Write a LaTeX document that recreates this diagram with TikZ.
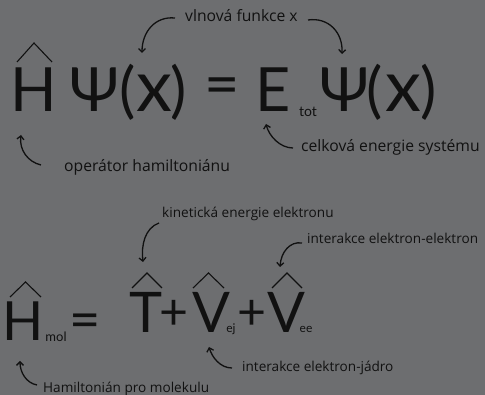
\documentclass[tikz,border=0pt]{standalone}
\usepackage{fontspec}
\setmainfont{Lato}
\newfontfamily\lblfont{Open Sans}
\usetikzlibrary{arrows.meta}
\definecolor{bg}{HTML}{6D6E70}
\definecolor{ink}{HTML}{111111}
\tikzset{
  glyph/.style={inner sep=0pt, anchor=base, text=ink},
  lbl/.style={inner sep=0pt, anchor=base west, text=ink, font=\lblfont\fontsize{13.6}{14}\selectfont},
  lblbig/.style={lbl, font=\lblfont\fontsize{15.7}{16}\selectfont},
  hatline/.style={draw=ink, line width=1.1pt},
  callout/.style={draw=ink, line width=1.3pt, -{Straight Barb[length=3.5pt,width=7pt]}},
}
\begin{document}
\begin{tikzpicture}[x=1pt,y=-1pt]
\fill[bg] (0,0) rectangle (485,395);
\useasboundingbox (0,0) rectangle (485,395);
% ---------- top equation ----------
\def\bigA{\fontsize{61}{61}\selectfont}
\node[glyph, font=\bigA] (H1) at (34,112) {H};
\node[glyph, font=\bigA] (P1) at (94.5,112) {Ψ};
\node[glyph, font=\bigA] (l1) at (128,112) {(};
\node[glyph, font=\fontsize{72}{72}\selectfont] (x1) at (154,112) {x};
\node[glyph, font=\bigA] (r1) at (178.5,112) {)};
\node[inner sep=0pt, text=ink, font=\bigA] (eq1) at (222,92) {=};
\node[glyph, font=\bigA] (E) at (273.5,112) {E};
\node[glyph, font=\fontsize{14}{14}\selectfont] (tot) at (308,117) {tot};
\node[glyph, font=\bigA] (P2) at (344.5,112) {Ψ};
\node[glyph, font=\bigA] (l2) at (375,112) {(};
\node[glyph, font=\fontsize{72}{72}\selectfont] (x2) at (403,112) {x};
\node[glyph, font=\bigA] (r2) at (428.5,112) {)};
\draw[hatline] (17,62) -- (34,43) -- (52,62);
% labels top
\node[lblbig] (Lwave) at (185,22) {vlnová funkce x};
\node[lblbig] (Lop) at (64,172) {operátor hamiltoniánu};
\node[lblbig] (Len) at (301,152) {celková energie systému};
% arrows top
\coordinate (a1s) at (175,18);  \coordinate (a1e) at (142,53);
\coordinate (a2s) at (308,20);  \coordinate (a2e) at (342,54);
\coordinate (a3s) at (41,165);  \coordinate (a3e) at (21,135);
\coordinate (a4s) at (293,148); \coordinate (a4e) at (266,124);
\draw[callout] (a1s) .. controls (155,16) and (142,32) .. (a1e);
\draw[callout] (a2s) .. controls (328,17) and (343,32) .. (a2e);
\draw[callout] (a3s) .. controls (28,162) and (19,150) .. (a3e);
\draw[callout] (a4s) .. controls (280,148) and (269,136) .. (a4e);
% ---------- bottom equation ----------
\node[glyph, font=\fontsize{54}{54}\selectfont] (H2) at (23,341) {H};
\node[glyph, font=\fontsize{13}{13}\selectfont] (mol) at (56,342) {mol};
\node[inner sep=0pt, text=ink, font=\fontsize{54}{54}\selectfont] (eq2) at (85,326) {=};
\node[glyph, font=\fontsize{56}{56}\selectfont] (T) at (146,333) {T};
\node[inner sep=0pt, text=ink, font=\fontsize{50}{50}\selectfont] (pl1) at (173.5,315) {+};
\node[glyph, font=\fontsize{56}{56}\selectfont] (V1) at (211,333) {V};
\node[glyph, font=\fontsize{12}{12}\selectfont] (ej) at (231,333) {ej};
\node[inner sep=0pt, text=ink, font=\fontsize{50}{50}\selectfont] (pl2) at (251.5,315) {+};
\node[glyph, font=\fontsize{56}{56}\selectfont] (V2) at (286,333) {V};
\node[glyph, font=\fontsize{12}{12}\selectfont] (ee) at (306,333) {ee};
\draw[hatline] (10,297) -- (25.5,282) -- (41,297);
\draw[hatline] (132,288) -- (147,273) -- (162,288);
\draw[hatline] (193,288) -- (208.5,273) -- (224,288);
\draw[hatline] (272,288) -- (287,273) -- (302,288);
% labels bottom
\node[lbl] (Lkin) at (162,218) {kinetická energie elektronu};
\node[lbl] (Lee) at (307,244) {interakce elektron-elektron};
\node[lbl] (Lej) at (242,372) {interakce elektron-jádro};
\node[lbl] (Lham) at (43,393) {Hamiltonián pro molekulu};
% arrows bottom
\coordinate (b1s) at (159,223); \coordinate (b1e) at (143,262);
\coordinate (b2s) at (302,243); \coordinate (b2e) at (280,267);
\coordinate (b3s) at (232,368); \coordinate (b3e) at (209,347);
\coordinate (b4s) at (37,385);  \coordinate (b4e) at (20,361);
\draw[callout] (b1s) .. controls (145,228) and (141,245) .. (b1e);
\draw[callout] (b2s) .. controls (290,241) and (281,252) .. (b2e);
\draw[callout] (b3s) .. controls (220,368) and (212,357) .. (b3e);
\draw[callout] (b4s) .. controls (26,383) and (20,372) .. (b4e);
\end{tikzpicture}
\end{document}
